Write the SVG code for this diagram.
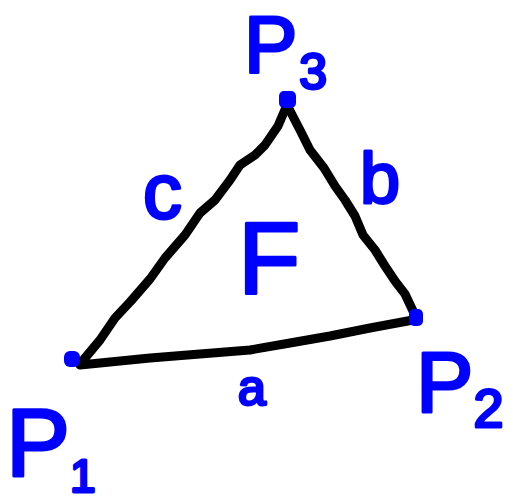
<svg xmlns="http://www.w3.org/2000/svg" width="513" height="502" viewBox="0 0 513 502">
<style>
.lbl{font-family:"Liberation Sans","DejaVu Sans",sans-serif;fill:#0000ff;stroke:#0000ff;stroke-width:3;stroke-linejoin:round}
.edge{fill:none;stroke:#000;stroke-width:9;stroke-linecap:round;stroke-linejoin:round}
.pt{fill:#0000ff}
</style>
<rect width="513" height="502" fill="#fff"/>
<g id="connectors">
<path class="edge" d="M80,364 L100,340 L115,318 L130,302 L150,279 L165,258 L185,235 L200,213 L215,200 L230,180 L240,165 L255,155 L265,145 L278,126 L287,105"/>
<path class="edge" d="M287,105 L300,130 L310,150 L324,168 L335,186 L345,200 L355,216 L363,235 L375,250 L385,266 L395,281 L405,294 L413,311"/>
<path class="edge" d="M413,320 L370,328 L330,336 L290,343 L250,350 L200,354 L150,358 L110,362 L80,365"/>
</g>
<g id="P3">
<rect class="pt" x="279" y="91" width="17" height="17" rx="5"/>
<text class="lbl" x="244" y="72" font-size="80">P<tspan font-size="50" dx="2" dy="17">3</tspan></text>
</g>
<g id="P1">
<rect class="pt" x="64" y="351" width="16" height="16" rx="6"/>
<text class="lbl" x="6" y="476" font-size="96">P<tspan font-size="46" dy="16">1</tspan></text>
</g>
<g id="P2">
<rect class="pt" x="409" y="309" width="14" height="17" rx="5"/>
<text class="lbl" x="416" y="412" font-size="86">P<tspan font-size="54" dy="15">2</tspan></text>
</g>
<g id="label-a"><text class="lbl" x="238" y="405" font-size="50">a</text></g>
<g id="label-b"><text class="lbl" x="360" y="203" font-size="72">b</text></g>
<g id="label-c"><text class="lbl" x="143" y="218" font-size="78">c</text></g>
<g id="label-F"><text class="lbl" x="238" y="294" font-size="102">F</text></g>
</svg>
